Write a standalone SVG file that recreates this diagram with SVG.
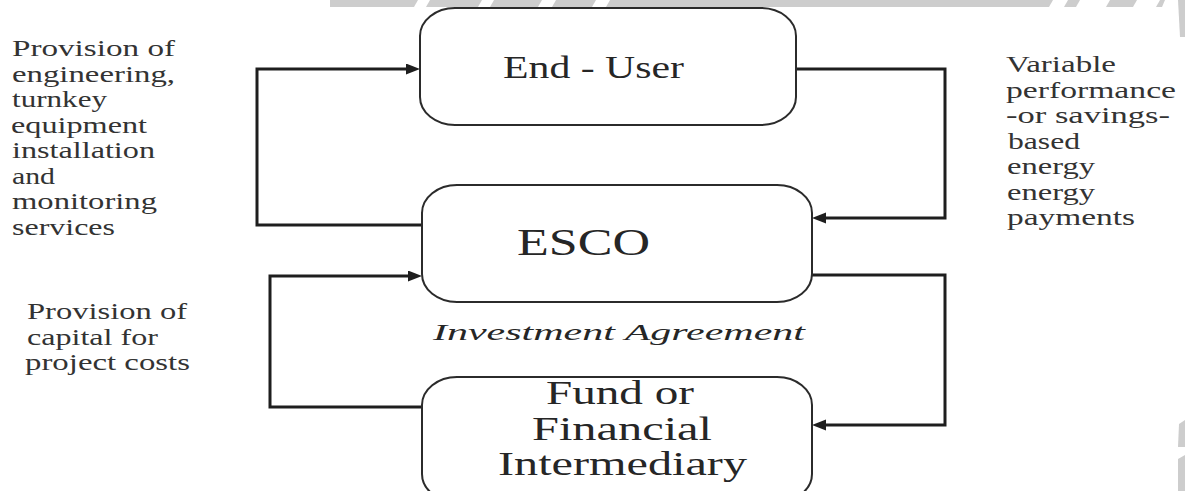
<svg xmlns="http://www.w3.org/2000/svg" width="1185" height="491" viewBox="0 0 1185 491">
  <style>
    .box { fill: #ffffff; stroke: #2b2b2b; stroke-width: 2; }
    .link { fill: none; stroke: #1e1e1e; stroke-width: 3; }
    .lbl { font-family: "Liberation Serif", "Times New Roman", serif; fill: #333333; font-size: 23px; }
    .node { font-family: "Liberation Serif", "Times New Roman", serif; fill: #262626; }
    .band { fill: #cdcdcd; }
  </style>
  <defs>
    <marker id="arrow" markerUnits="userSpaceOnUse" markerWidth="16" markerHeight="12" refX="6" refY="5.5" orient="auto">
      <path d="M0,0 L14,5.5 L0,11 Z" fill="#1e1e1e"/>
    </marker>
  </defs>

  <rect width="1185" height="491" fill="#ffffff"/>

  <!-- grey edge bands -->
  <g id="edge-bands">
    <polygon class="band" points="330,0 1165,0 1162,7 330,7"/>
    <polygon points="418,0 430,0 426,7 414,7" fill="#ffffff"/>
    <polygon points="482,0 494,0 490,7 478,7" fill="#ffffff"/>
    <polygon points="542,0 556,0 552,7 538,7" fill="#ffffff"/>
    <polygon points="596,0 610,0 606,7 592,7" fill="#ffffff"/>
    <polygon points="1053,0 1068,0 1064,7 1049,7" fill="#ffffff"/>
    <polygon points="1080,0 1110,0 1106,7 1076,7" fill="#ffffff"/>
    <polygon points="1137,0 1160,0 1156,7 1133,7" fill="#ffffff"/>
    <polygon class="band" points="1178,0 1185,0 1185,37 1180,37"/>
    <polygon class="band" points="1179,424 1185,420 1185,447 1178,447"/>
    <polygon class="band" points="1178,459 1185,455 1185,491 1178,491"/>
  </g>

  <!-- connectors -->
  <g id="connectors">
    <path class="link" d="M422,225 H257 V69 H412" marker-end="url(#arrow)"/>
    <path class="link" d="M796,69 H945 V218 H820" marker-end="url(#arrow)"/>
    <path class="link" d="M422,407 H270 V276 H414" marker-end="url(#arrow)"/>
    <path class="link" d="M812,275 H945 V425 H820" marker-end="url(#arrow)"/>
  </g>

  <!-- nodes -->
  <g id="end-user">
    <rect class="box" x="420" y="8" width="376" height="117" rx="35" ry="28"/>
    <text class="node" x="503" y="78" font-size="32" textLength="181" lengthAdjust="spacingAndGlyphs">End - User</text>
  </g>

  <g id="esco">
    <rect class="box" x="422" y="185" width="390" height="117" rx="35" ry="28"/>
    <text class="node" x="517" y="255" font-size="37" textLength="133" lengthAdjust="spacingAndGlyphs">ESCO</text>
  </g>

  <g id="fund">
    <rect class="box" x="422" y="377" width="390" height="125" rx="35" ry="28"/>
    <text class="node" x="546" y="404" font-size="33" textLength="148" lengthAdjust="spacingAndGlyphs">Fund or</text>
    <text class="node" x="532" y="439.5" font-size="33" textLength="180" lengthAdjust="spacingAndGlyphs">Financial</text>
    <text class="node" x="498" y="475" font-size="33" textLength="249" lengthAdjust="spacingAndGlyphs">Intermediary</text>
  </g>

  <!-- agreement label -->
  <g id="agreement">
    <text class="node" x="433" y="340" font-size="23" font-style="italic" textLength="372" lengthAdjust="spacingAndGlyphs">Investment Agreement</text>
  </g>

  <!-- flow labels -->
  <g id="label-services">
    <text class="lbl" x="12" y="56" textLength="163" lengthAdjust="spacingAndGlyphs">Provision of</text>
    <text class="lbl" x="12" y="81.5" textLength="163" lengthAdjust="spacingAndGlyphs">engineering,</text>
    <text class="lbl" x="12" y="107" textLength="95" lengthAdjust="spacingAndGlyphs">turnkey</text>
    <text class="lbl" x="11" y="132.5" textLength="136" lengthAdjust="spacingAndGlyphs">equipment</text>
    <text class="lbl" x="12" y="158" textLength="143" lengthAdjust="spacingAndGlyphs">installation</text>
    <text class="lbl" x="12" y="183.5" textLength="43" lengthAdjust="spacingAndGlyphs">and</text>
    <text class="lbl" x="12" y="209" textLength="145" lengthAdjust="spacingAndGlyphs">monitoring</text>
    <text class="lbl" x="12" y="234.5" textLength="103" lengthAdjust="spacingAndGlyphs">services</text>
  </g>

  <g id="label-capital">
    <text class="lbl" x="27" y="319" textLength="160" lengthAdjust="spacingAndGlyphs">Provision of</text>
    <text class="lbl" x="27" y="344.5" textLength="131" lengthAdjust="spacingAndGlyphs">capital for</text>
    <text class="lbl" x="25" y="370" textLength="165" lengthAdjust="spacingAndGlyphs">project costs</text>
  </g>

  <g id="label-payments">
    <text class="lbl" x="1006" y="72" textLength="110" lengthAdjust="spacingAndGlyphs">Variable</text>
    <text class="lbl" x="1006" y="97.5" textLength="170" lengthAdjust="spacingAndGlyphs">performance</text>
    <text class="lbl" x="1006" y="123" textLength="164" lengthAdjust="spacingAndGlyphs">-or savings-</text>
    <text class="lbl" x="1008" y="148.5" textLength="72" lengthAdjust="spacingAndGlyphs">based</text>
    <text class="lbl" x="1007" y="174" textLength="88" lengthAdjust="spacingAndGlyphs">energy</text>
    <text class="lbl" x="1007" y="199.5" textLength="88" lengthAdjust="spacingAndGlyphs">energy</text>
    <text class="lbl" x="1007" y="225" textLength="128" lengthAdjust="spacingAndGlyphs">payments</text>
  </g>
</svg>
